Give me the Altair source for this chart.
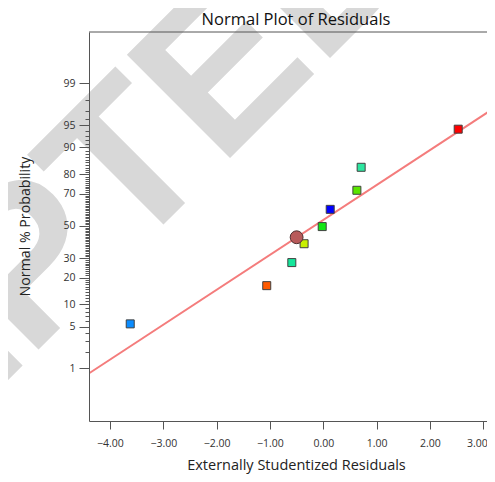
import altair as alt
import pandas as pd
from statistics import NormalDist

# ---- data ----
resid = [-3.62, -1.06, -0.59, -0.36, -0.02, 0.13, 0.63, 0.71, 2.53]
prob = [5.5, 16.5, 27.5, 38.6, 49.6, 60.7, 72.0, 83.1, 94.3]
colors = ["#0A8CFF", "#FF5A00", "#14E69B", "#C8F000", "#14E614",
          "#0000FF", "#5AE600", "#2DE6A0", "#FF0000"]
circle_resid = [-0.50]
circle_prob = [42.7]
line_resid = [-4.39, 3.18]
line_prob = [0.81, 97.2]

major_p = [1, 5, 10, 20, 30, 50, 70, 80, 90, 95, 99]
minor_p = list(range(1, 100))
x_ticks = [-4, -3, -2, -1, 0, 1, 2, 3]
title_text = ["Normal Plot of Residuals"]
watermark_text = ["ACCEPTED"]

nd = NormalDist()
y_tick_values = [nd.inv_cdf(p / 100) for p in minor_p]

pts = pd.DataFrame({"x": resid, "p": prob, "c": colors})
circ = pd.DataFrame({"x": circle_resid, "p": circle_prob})
line = pd.DataFrame({"x": line_resid, "p": line_prob})

W, H = 398, 389
FONT = "Open Sans"

major_list = "[" + ",".join(str(p) for p in major_p) + "]"
pct = "round(cumulativeNormal(datum.value)*100)"
is_major = f"indexof({major_list}, {pct}) >= 0"
is_last = "datum.value == 3"

xscale = alt.Scale(domain=[-4.393, 3.070], nice=False, zero=False)
yscale = alt.Scale(domain=[-3.184, 3.167], nice=False, zero=False)

xaxis = alt.Axis(values=x_ticks, format=".2f", title="Externally Studentized Residuals",
                 grid=False, tickSize=8, labelPadding=9, labelFont=FONT, labelFontSize=10.5,
                 labelColor="#333333", titleFont=FONT, titleFontSize=14.5,
                 labelAlign={"condition": {"test": is_last, "value": "right"}, "value": "center"},
                 labelOffset={"condition": {"test": is_last, "value": 4}, "value": 0},
                 titleFontWeight="normal", titleColor="#222222", titleX=207, titleY=48,
                 titleBaseline="alphabetic", domainColor="#555555", tickColor="#555555",
                 labelFlush=False, labelOverlap=False, zindex=1)
yaxis = alt.Axis(values=y_tick_values, title="Normal % Probability", grid=False,
                 tickSize={"condition": {"test": is_major, "value": 10}, "value": 4},
                 labelExpr=f"{is_major} ? format({pct}, 'd') : ''",
                 labelPadding=4, labelFont=FONT, labelFontSize=10.5, labelColor="#333333",
                 titleFont=FONT, titleFontSize=14.2, titleFontWeight="normal",
                 titleColor="#222222", titleAngle=270, titleX=-64, titleY=194,
                 titleBaseline="middle", titleAlign="center",
                 domainColor="#555555", tickColor="#555555",
                 labelFlush=False, labelOverlap=False, zindex=1)

X = alt.X("x:Q", scale=xscale, axis=xaxis)
Y = alt.Y("z:Q", scale=yscale, axis=yaxis)

watermark = alt.Chart(pd.DataFrame({"t": watermark_text})).mark_text(
    angle=315, fontSize=212, fontWeight="bold", font="Liberation Sans",
    color="#d8d8d8", align="center", baseline="alphabetic"
).encode(x=alt.value(-73), y=alt.value(340), text="t:N")

title = alt.Chart(pd.DataFrame({"t": title_text})).mark_text(
    font=FONT, fontSize=16.5, color="#111111", align="center", baseline="alphabetic"
).encode(x=alt.value(207), y=alt.value(-7), text="t:N")

fit = alt.Chart(line).transform_calculate(z="quantileNormal(datum.p/100)").mark_line(
    color="#F47C7C", strokeWidth=2, clip=True
).encode(x=X, y=Y)

squares = alt.Chart(pts).transform_calculate(z="quantileNormal(datum.p/100)").mark_square(
    size=64, stroke="#404040", strokeWidth=1, opacity=1
).encode(x=X, y=Y, fill=alt.Fill("c:N", scale=None))

circle = alt.Chart(circ).transform_calculate(z="quantileNormal(datum.p/100)").mark_circle(
    size=165, color="#B85A5A", stroke="#503030", strokeWidth=1, opacity=1
).encode(x=X, y=Y)

top_rule = alt.Chart(pd.DataFrame({"a": [0]})).mark_rule(
    color="#555555", strokeWidth=1
).encode(x=alt.value(0), x2=alt.value(W), y=alt.value(0))

chart = alt.layer(watermark, title, fit, squares, circle, top_rule).properties(
    width=W, height=H,
    padding={"left": 81, "top": 24, "right": 0, "bottom": 53},
    autosize=alt.AutoSizeParams(type="none"),
).configure_view(stroke=None)

chart.save("out.html", embed_options={"renderer": "svg", "actions": False})
